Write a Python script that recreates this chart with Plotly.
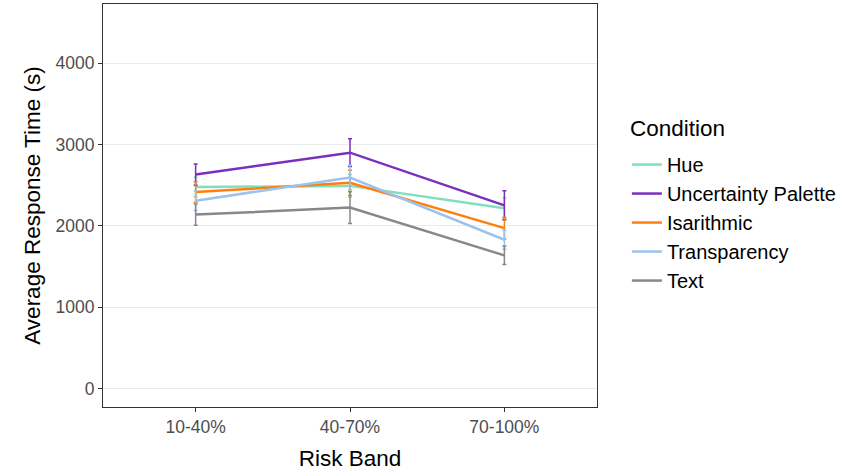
import plotly.graph_objects as go

categories = ["10-40%", "40-70%", "70-100%"]
conditions = ["Hue", "Uncertainty Palette", "Isarithmic", "Transparency", "Text"]
colors = ["#7FE0BE", "#7B2FBF", "#FF7F0E", "#9BC3EE", "#888888"]
means = {
    "Hue": [2476, 2491, 2215],
    "Uncertainty Palette": [2630, 2899, 2252],
    "Isarithmic": [2415, 2528, 1972],
    "Transparency": [2309, 2594, 1829],
    "Text": [2138, 2224, 1638],
}
errors = {
    "Hue": [120, 140, 130],
    "Uncertainty Palette": [130, 170, 178],
    "Isarithmic": [126, 155, 134],
    "Transparency": [120, 150, 116],
    "Text": [130, 196, 114],
}
legend_title = "Condition"

fig = go.Figure()
for name, col in zip(conditions, colors):
    fig.add_trace(go.Scatter(
        x=categories, y=means[name], name=name, mode="lines",
        line=dict(color=col, width=2.5),
        error_y=dict(type="data", array=errors[name], visible=True,
                     color=col, thickness=1.5, width=2),
    ))

fig.add_annotation(
    text=legend_title, xref="paper", yref="paper",
    x=(630 - 103) / 496, y=1 - (128 - 4) / 403,
    xanchor="left", yanchor="middle", showarrow=False,
    font=dict(size=22.5, color="black"),
)

fig.update_layout(
    width=845, height=476,
    margin=dict(l=103, r=246, t=4, b=69),
    plot_bgcolor="white", paper_bgcolor="white",
    font=dict(family="Liberation Sans, Arial, sans-serif", color="#4D4D4D"),
    legend=dict(
        font=dict(size=20, color="black"),
        x=1.0605, y=0.65, xanchor="left", yanchor="top",
        tracegroupgap=0, itemwidth=30,
    ),
    xaxis=dict(
        range=[-0.6, 2.6], showgrid=False, zeroline=False,
        showline=True, mirror=True, linecolor="#333333", linewidth=1,
        ticks="outside", ticklen=4, tickcolor="#333333",
        tickfont=dict(size=17.5, color="#4D4D4D"),
        title=dict(text="Risk Band", font=dict(size=22.5, color="black"), standoff=14),
    ),
    yaxis=dict(
        range=[-225, 4725], tickvals=[0, 1000, 2000, 3000, 4000],
        showgrid=True, gridcolor="#EBEBEB", gridwidth=1.2, zeroline=False,
        showline=True, mirror=True, linecolor="#333333", linewidth=1,
        ticks="outside", ticklen=4, tickcolor="#333333",
        tickfont=dict(size=17.5, color="#4D4D4D"),
        title=dict(text="Average Response Time (s)", font=dict(size=22.5, color="black"), standoff=8),
    ),
)

fig.write_html("out.html", config={"displayModeBar": False},
               post_script="document.body.style.margin='0px';")
